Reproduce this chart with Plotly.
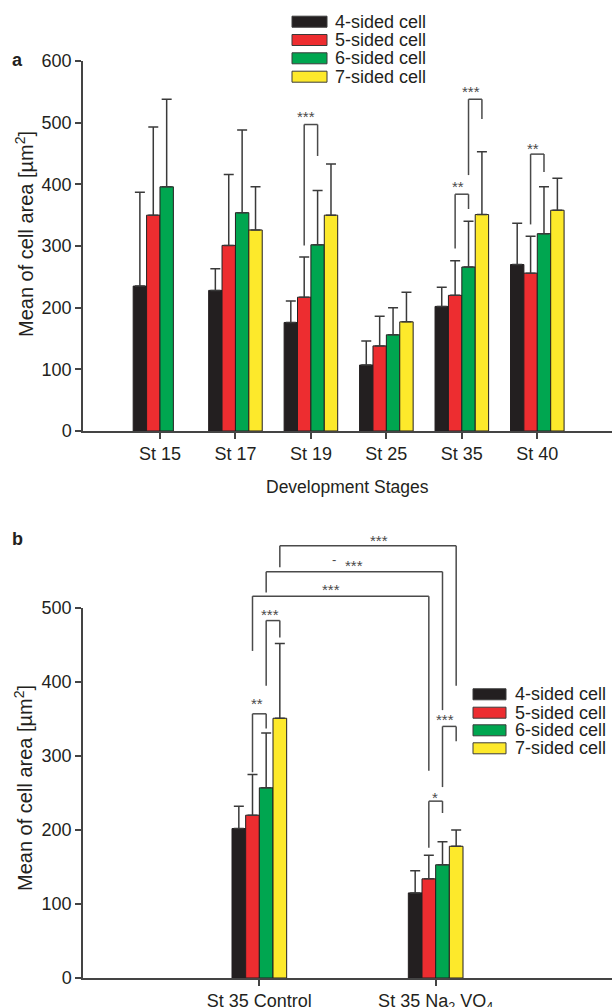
import plotly.graph_objects as go

W, H = 615, 1007

# ---------------- data ----------------
stages = ["St 15", "St 17", "St 19", "St 25", "St 35", "St 40"]
series_names = ["4-sided cell", "5-sided cell", "6-sided cell", "7-sided cell"]
colors = ["#231f20", "#ed2d30", "#00a650", "#fde92b"]

# panel a: mean cell area (µm²) per development stage
a_4 = [235, 228, 176, 107, 202, 270]
a_5 = [350, 301, 217, 138, 220, 256]
a_6 = [396, 354, 302, 156, 266, 320]
a_7 = [None, 326, 350, 177, 351, 358]
# panel a: upper error (SD)
a_4_sd = [152, 35, 35, 39, 31, 67]
a_5_sd = [143, 115, 65, 48, 56, 60]
a_6_sd = [142, 134, 88, 44, 74, 76]
a_7_sd = [None, 70, 83, 48, 102, 52]

# panel b: St 35 control vs Na3VO4
treatments = ["St 35 Control", "St 35 Na<sub>2</sub> VO<sub>4</sub>"]
b_4 = [202, 115]
b_5 = [220, 134]
b_6 = [257, 153]
b_7 = [351, 178]
b_4_sd = [30, 30]
b_5_sd = [55, 32]
b_6_sd = [74, 31]
b_7_sd = [101, 22]

a_means = [a_4, a_5, a_6, a_7]
a_sds = [a_4_sd, a_5_sd, a_6_sd, a_7_sd]
b_means = [b_4, b_5, b_6, b_7]
b_sds = [b_4_sd, b_5_sd, b_6_sd, b_7_sd]

# significance brackets: (left cat, left bar, right cat, right bar, top, left end, right end, label, label y, label dx px)
a_brackets = [
    (2, 1, 2, 2, 497, 301, 446, "***", 516, -5),
    (4, 1, 4, 2, 384, 296, 360, "**", 403, -4),
    (4, 2, 4, 3, 538, 415, 506, "***", 557, -4),
    (5, 1, 5, 2, 449, 335, 420, "**", 465, -4),
]
b_brackets = [
    (0, 3, 1, 3, 584, 555, 395, "***", 596, 11),
    (0, 2, 1, 2, 549, 521, 362, "***", 563, 0),
    (0, 1, 1, 1, 516, 442, 280, "***", 530, -10),
    (0, 2, 0, 3, 483, 395, 460, "***", 497, -3),
    (0, 1, 0, 2, 357, 278, 337, "**", 376, -2),
    (1, 2, 1, 3, 340, 258, 320, "***", 355, -4),
    (1, 1, 1, 2, 239, 176, 223, "*", 250, -1),
]

# ---------------- layout constants ----------------
TXT = "#231f20"
AX = "#444444"
FONT = "Liberation Sans, Arial, sans-serif"

xdom = [83 / W, 612 / W]
ya_dom = [(H - 431) / H, (H - 61) / H]
yb_dom = [(H - 978) / H, (H - 608) / H]
ya_rng = [0, 600]
yb_rng = [0, 500]
group_a = 0.71
group_b = 0.31


def ypaper(v, dom, rng):
    return dom[0] + (v - rng[0]) / (rng[1] - rng[0]) * (dom[1] - dom[0])


def bar_center(cat, i, group):
    w = group / 4
    return cat - group / 2 + w * (i + 0.5)


fig = go.Figure()

for i in range(4):
    w = group_a / 4
    fig.add_trace(go.Bar(
        x=list(range(len(stages))), y=a_means[i], name=series_names[i],
        width=w, offset=-group_a / 2 + w * i,
        marker=dict(color=colors[i], line=dict(color=TXT, width=1)),
        error_y=dict(type="data", array=a_sds[i], arrayminus=[0] * len(stages),
                     symmetric=False, color="#3a3a3a", thickness=1.5, width=5),
        xaxis="x", yaxis="y", showlegend=False,
    ))
    wb = group_b / 4
    fig.add_trace(go.Bar(
        x=list(range(len(treatments))), y=b_means[i], name=series_names[i],
        width=wb, offset=-group_b / 2 + wb * i,
        marker=dict(color=colors[i], line=dict(color=TXT, width=1)),
        error_y=dict(type="data", array=b_sds[i], arrayminus=[0] * len(treatments),
                     symmetric=False, color="#3a3a3a", thickness=1.5, width=5),
        xaxis="x2", yaxis="y2", showlegend=False,
    ))

shapes = []
annotations = []


def add_brackets(brs, xref, dom, rng, group):
    for (c1, b1, c2, b2, top, e1, e2, lab, ly, dx) in brs:
        x1 = bar_center(c1, b1, group)
        x2 = bar_center(c2, b2, group)
        line = dict(color="#4a4a4a", width=1.5)
        shapes.append(dict(type="line", xref=xref, yref="paper", x0=x1, x1=x1,
                           y0=ypaper(e1, dom, rng), y1=ypaper(top, dom, rng), line=line))
        shapes.append(dict(type="line", xref=xref, yref="paper", x0=x1, x1=x2,
                           y0=ypaper(top, dom, rng), y1=ypaper(top, dom, rng), line=line))
        shapes.append(dict(type="line", xref=xref, yref="paper", x0=x2, x1=x2,
                           y0=ypaper(e2, dom, rng), y1=ypaper(top, dom, rng), line=line))
        annotations.append(dict(text=lab, xref=xref, yref="paper", x=(x1 + x2) / 2,
                                y=ypaper(ly, dom, rng), xanchor="center", yanchor="middle",
                                xshift=dx, yshift=-4, showarrow=False,
                                font=dict(size=15, color="#4a4a4a", family=FONT)))


add_brackets(a_brackets, "x", ya_dom, ya_rng, group_a)
add_brackets(b_brackets, "x2", yb_dom, yb_rng, group_b)

# small dash before second long bracket label
annotations.append(dict(text="-", xref="x2", yref="paper",
                        x=(bar_center(0, 2, group_b) + bar_center(1, 2, group_b)) / 2,
                        y=ypaper(565, yb_dom, yb_rng), xanchor="center", yanchor="middle",
                        xshift=-20, showarrow=False,
                        font=dict(size=13, color="#4a4a4a", family=FONT)))


# manual legends
def add_legend(x_sw, y_rows, x_txt):
    for i, name in enumerate(series_names):
        yc = y_rows[i]
        shapes.append(dict(type="rect", xref="paper", yref="paper",
                           x0=x_sw[0] / W, x1=x_sw[1] / W,
                           y0=(H - yc - 5.5) / H, y1=(H - yc + 5.5) / H,
                           fillcolor=colors[i], line=dict(color="#3a3a3a", width=1)))
        annotations.append(dict(text=name, xref="paper", yref="paper",
                                x=x_txt / W, y=(H - yc) / H, xanchor="left", yanchor="middle",
                                showarrow=False, font=dict(size=18, color=TXT, family=FONT)))


add_legend((292, 327), (21.7, 40, 58.3, 76.7), 333)
add_legend((473, 506), (694.3, 712.7, 730.3, 748.3), 513)

# titles and panel labels
ytitle = "Mean of cell area [µm<sup>2</sup>]"
annotations.append(dict(text=ytitle, xref="paper", yref="paper", x=24 / W,
                        y=(H - 234) / H, textangle=-90, xanchor="center", yanchor="middle",
                        showarrow=False, font=dict(size=20, color=TXT, family=FONT)))
annotations.append(dict(text=ytitle, xref="paper", yref="paper", x=24 / W,
                        y=(H - 788) / H, textangle=-90, xanchor="center", yanchor="middle",
                        showarrow=False, font=dict(size=20, color=TXT, family=FONT)))
annotations.append(dict(text="Development Stages", xref="paper", yref="paper", x=347 / W,
                        y=(H - 487) / H, xanchor="center", yanchor="middle",
                        showarrow=False, font=dict(size=17.5, color=TXT, family=FONT)))
annotations.append(dict(text="<b>a</b>", xref="paper", yref="paper", x=17 / W,
                        y=(H - 60) / H, xanchor="center", yanchor="middle",
                        showarrow=False, font=dict(size=18, color=TXT, family=FONT)))
annotations.append(dict(text="<b>b</b>", xref="paper", yref="paper", x=17 / W,
                        y=(H - 539) / H, xanchor="center", yanchor="middle",
                        showarrow=False, font=dict(size=18, color=TXT, family=FONT)))

axis_common = dict(showline=True, linecolor=AX, linewidth=1.5, ticks="outside",
                   ticklen=6, tickcolor=AX, tickwidth=1.5, showgrid=False, zeroline=False,
                   automargin=False,
                   tickfont=dict(size=18, color=TXT, family=FONT))

fig.update_layout(
    template="none",
    width=W, height=H,
    margin=dict(l=0, r=0, t=0, b=0, pad=0),
    paper_bgcolor="white", plot_bgcolor="white",
    barmode="overlay",
    font=dict(family=FONT, color=TXT),
    xaxis=dict(domain=xdom, anchor="y", range=[-1.02, 5.99],
               tickvals=list(range(len(stages))), ticktext=stages, **axis_common),
    yaxis=dict(domain=ya_dom, anchor="x", range=ya_rng, dtick=100, **axis_common),
    xaxis2=dict(domain=xdom, anchor="y2", range=[-1.0, 2.0],
                tickvals=list(range(len(treatments))), ticktext=treatments, **axis_common),
    yaxis2=dict(domain=yb_dom, anchor="x2", range=yb_rng, dtick=100, **axis_common),
    shapes=shapes,
    annotations=annotations,
)

fig.write_html("out.html",
               config={"displayModeBar": False},
               post_script="document.body.style.margin='0';document.body.style.overflow='hidden';")
